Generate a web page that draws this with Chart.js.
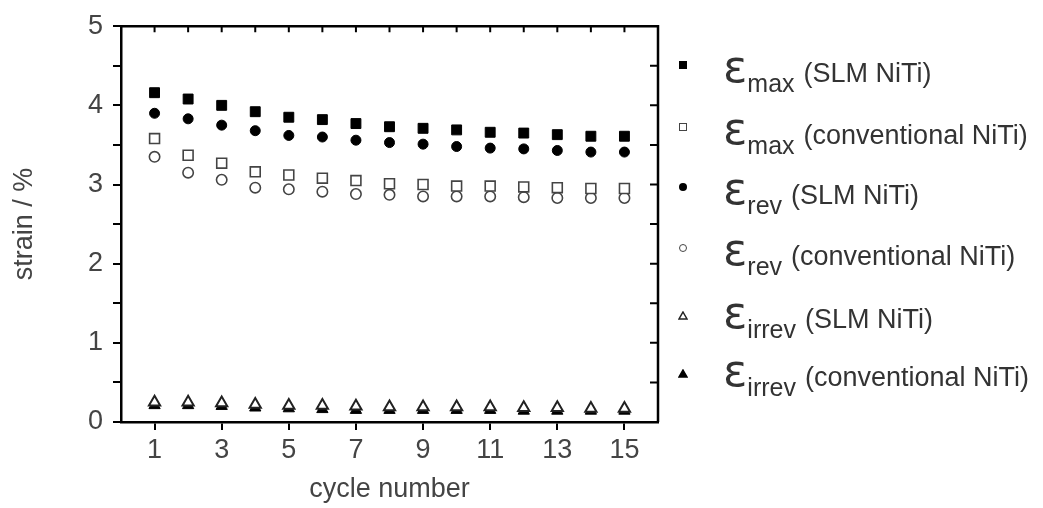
<!DOCTYPE html>
<html>
<head>
<meta charset="utf-8">
<script src="https://cdn.jsdelivr.net/npm/chart.js@4.4.0/dist/chart.umd.min.js"></script>
<style>
   html, body { margin: 0; padding: 0; background: #fff; }
   #wrap { position: relative; width: 1043px; height: 508px; }
   .legendRow { position: absolute; left: 723px; font-family: "Liberation Sans", Arial, sans-serif; font-size: 27px; line-height: 30px; color: #333; white-space: nowrap; }
   .eps { font-family: "DejaVu Sans", sans-serif; font-size: 45px; line-height: 0; }
   .sub { font-size: 25px; line-height: 0; vertical-align: -10px; margin-right: 9px; }
   .mark { position: absolute; box-sizing: border-box; }
</style>
</head>
<body>
<div id="wrap">
   <canvas id="myChart" width="1043" height="508"></canvas>
   <div id="legend"></div>
</div>
<script>
// ==========================================
// Data
// ==========================================

const cycles = [1, 2, 3, 4, 5, 6, 7, 8, 9, 10, 11, 12, 13, 14, 15];

const maxSLM  = [4.16, 4.08, 4.00, 3.92, 3.85, 3.82, 3.77, 3.73, 3.71, 3.69, 3.66, 3.65, 3.63, 3.61, 3.61];
const maxConv = [3.58, 3.37, 3.27, 3.16, 3.12, 3.08, 3.05, 3.01, 3.00, 2.98, 2.98, 2.97, 2.96, 2.95, 2.95];
const revSLM  = [3.90, 3.83, 3.75, 3.68, 3.62, 3.60, 3.56, 3.53, 3.51, 3.48, 3.46, 3.45, 3.43, 3.41, 3.41];
const revConv = [3.35, 3.15, 3.06, 2.96, 2.94, 2.91, 2.88, 2.87, 2.85, 2.85, 2.85, 2.84, 2.83, 2.83, 2.83];
const irrevSLM  = [0.25, 0.25, 0.24, 0.22, 0.21, 0.21, 0.20, 0.19, 0.19, 0.19, 0.19, 0.18, 0.18, 0.17, 0.17];
const irrevConv = [0.21, 0.21, 0.20, 0.18, 0.17, 0.16, 0.15, 0.15, 0.15, 0.15, 0.15, 0.14, 0.14, 0.14, 0.14];

const xTickLabels = [1, 3, 5, 7, 9, 11, 13, 15];

const legendSubs = ["max", "max", "rev", "rev", "irrev", "irrev"];
const legendTexts = ["(SLM NiTi)", "(conventional NiTi)", "(SLM NiTi)", "(conventional NiTi)", "(SLM NiTi)", "(conventional NiTi)"];

// ==========================================
// Chart
// ==========================================

function toPoints(values) {
   return values.map((v, i) => ({ x: cycles[i], y: v }));
}

const openColor = "#444";

const datasets = [
   { data: toPoints(maxSLM), pointStyle: "rect", pointRadius: 7, backgroundColor: "#000", borderColor: "#000", borderWidth: 1 },
   { data: toPoints(maxConv), pointStyle: "rect", pointRadius: 7, backgroundColor: "#fff", borderColor: openColor, borderWidth: 1.6 },
   { data: toPoints(revSLM), pointStyle: "circle", pointRadius: 5, backgroundColor: "#000", borderColor: "#000", borderWidth: 1 },
   { data: toPoints(revConv), pointStyle: "circle", pointRadius: 5.2, backgroundColor: "#fff", borderColor: openColor, borderWidth: 1.6 },
   { data: toPoints(irrevSLM), pointStyle: "triangle", pointRadius: 6.5, backgroundColor: "#fff", borderColor: "#222", borderWidth: 2 },
   { data: toPoints(irrevConv), pointStyle: "triangle", pointRadius: 6.5, backgroundColor: "#000", borderColor: "#000", borderWidth: 1 }
];

const textFont = { family: "'Liberation Sans', Arial, sans-serif", size: 27 };

// Top and right frame with inward ticks
const framePlugin = {
   id: "frame",
   afterDraw(chart) {
      const { ctx, chartArea: a, scales: { x, y } } = chart;
      ctx.save();
      ctx.strokeStyle = "#000";
      ctx.lineWidth = 2.5;
      ctx.beginPath();
      ctx.moveTo(a.left, a.top);
      ctx.lineTo(a.right, a.top);
      ctx.lineTo(a.right, a.bottom);
      ctx.stroke();
      ctx.lineWidth = 2;
      ctx.beginPath();
      for (let v = x.min + 1; v < x.max; v++) {
         const px = x.getPixelForValue(v);
         ctx.moveTo(px, a.top);
         ctx.lineTo(px, a.top + 6);
      }
      y.ticks.forEach(t => {
         if (t.value <= y.min || t.value >= y.max) return;
         const py = y.getPixelForValue(t.value);
         ctx.moveTo(a.right, py);
         ctx.lineTo(a.right - 8, py);
      });
      ctx.stroke();
      ctx.restore();
   }
};

const ctx = document.getElementById("myChart");

let chart = new Chart(ctx, {
   type: "scatter",
   data: { datasets: datasets },
   plugins: [framePlugin],
   options: {
      responsive: false,
      animation: false,
      layout: { padding: { left: 0, right: 385, top: 20, bottom: 0 } },
      plugins: { legend: { display: false }, tooltip: { enabled: false } },
      scales: {
         x: {
            type: "linear",
            min: 0,
            max: 16,
            afterBuildTicks: (scale) => { scale.ticks = xTickLabels.map(v => ({ value: v })); },
            afterFit: (scale) => { scale.height = 86; },
            ticks: { autoSkip: false, maxRotation: 0, color: "#444", font: textFont, padding: 4 },
            grid: { display: true, drawOnChartArea: false, drawTicks: true, tickLength: 8, lineWidth: 2, color: "#000" },
            border: { display: true, width: 2.5, color: "#000" },
            title: { display: true, text: "cycle number", color: "#444", font: textFont, padding: { top: 0, bottom: 2 } }
         },
         y: {
            min: 0,
            max: 5,
            afterFit: (scale) => { scale.width = 121; },
            ticks: { stepSize: 0.5, autoSkip: false, color: "#444", font: textFont, padding: 10,
               callback: (v) => Number.isInteger(v) ? v : "" },
            grid: { display: true, drawOnChartArea: false, drawTicks: true, tickLength: 8, lineWidth: 2, color: "#000" },
            border: { display: true, width: 2.5, color: "#000" },
            title: { display: true, text: "strain / %", color: "#444", font: textFont, padding: { top: 8, bottom: 0 } }
         }
      }
   }
});

// ==========================================
// Legend
// ==========================================

const markerCenters = [65, 127, 187, 248, 311, 369];

function makeMarker(i) {
   let m = document.createElement("DIV");
   m.classList.add("mark");
   const ds = datasets[i];
   if (ds.pointStyle == "triangle") {
      m.innerHTML = `<svg width="10" height="9"><polygon points="5,1 9,8 1,8" fill="${ds.backgroundColor}" stroke="${ds.borderColor}" stroke-width="1.5"/></svg>`;
      m.style.left = "678px";
      m.style.top = (markerCenters[i] - 5) + "px";
   }
   else {
      m.style.width = "8px";
      m.style.height = "8px";
      m.style.left = "679px";
      m.style.top = (markerCenters[i] - 4) + "px";
      m.style.background = ds.backgroundColor;
      if (ds.backgroundColor == "#fff") m.style.border = "1.5px solid " + openColor;
      if (ds.pointStyle == "circle") m.style.borderRadius = "50%";
   }
   return m;
}

const legend = document.getElementById("legend");
legendTexts.forEach((txt, i) => {
   legend.appendChild(makeMarker(i));
   let row = document.createElement("DIV");
   row.classList.add("legendRow");
   row.style.top = (markerCenters[i] + 17 - 24) + "px";
   let eps = document.createElement("SPAN");
   eps.classList.add("eps");
   eps.textContent = "ε";
   let sub = document.createElement("SPAN");
   sub.classList.add("sub");
   sub.textContent = legendSubs[i];
   let rest = document.createElement("SPAN");
   rest.textContent = txt;
   row.append(eps, sub, rest);
   legend.appendChild(row);
});
</script>
</body>
</html>
